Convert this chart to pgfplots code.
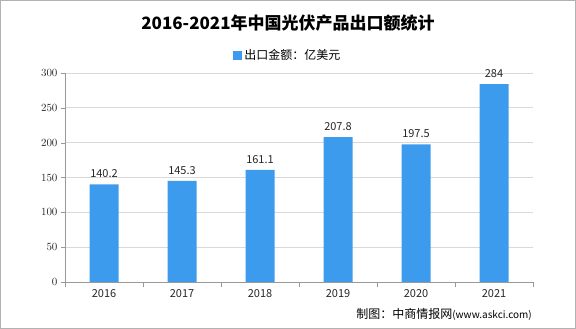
\documentclass[border=0pt]{standalone}
\usepackage{pgfplots}
\pgfplotsset{compat=1.18}
\usepackage{fontspec}
\setmainfont{Noto Sans CJK SC}
\definecolor{barblue}{HTML}{3D9BEE}
\begin{document}
\begin{tikzpicture}[x=1pt,y=1pt]
\draw[gray!60, line width=1pt] (0.5,0.5) rectangle (575.5,328.5);
\node[font=\fontsize{17}{20}\selectfont\bfseries] at (288,306) {2016-2021年中国光伏产品出口额统计};
\begin{axis}[
  at={(65pt,47pt)}, anchor=south west,
  scale only axis, width=468pt, height=209pt,
  xmin=-0.5, xmax=5.5, ymin=0, ymax=300,
  ytick={0,50,...,300},
  xtick={0,...,5},
  xticklabels={2016,2017,2018,2019,2020,2021},
  minor xtick={-0.5,0.5,...,5.5},
  major x tick style={draw=none},
  minor x tick style={draw=gray!80},
  minor tick length=5pt, major tick length=4pt,
  tick align=outside,
  y tick style={draw=gray!80},
  ymajorgrids, grid style={draw=gray!30, line width=0.8pt},
  axis x line*=bottom, axis y line*=left,
  axis line style={draw=gray!80, line width=0.8pt, -},
  tick label style={font=\fontsize{11}{13}\selectfont, text=black!85},
  legend style={at={(0.476,1.086)}, anchor=center, draw=none, fill=none, font=\fontsize{12}{14}\selectfont, inner sep=0pt},
  legend image code/.code={\fill[barblue] (0pt,-4.5pt) rectangle (9pt,4.5pt);},
  clip=false,
]
\addplot[ybar, fill=barblue, draw=none, bar width=29pt, bar shift=0pt,
  nodes near coords, point meta=explicit symbolic,
  every node near coord/.style={font=\fontsize{11}{13}\selectfont, anchor=south, yshift=3pt, text=black!85}]
  table[x=x, y=y, meta=label] {
x y label
0 140.2 140.2
1 145.3 145.3
2 161.1 161.1
3 207.8 207.8
4 197.5 197.5
5 284 284
};
\addlegendentry{出口金额：亿美元}
\end{axis}
\node[anchor=east, inner sep=0pt] at (532,15) {{\fontsize{12}{14}\selectfont 制图：中商情报网}{\fontsize{10}{12}\selectfont(www.askci.com)}};
\end{tikzpicture}
\end{document}
